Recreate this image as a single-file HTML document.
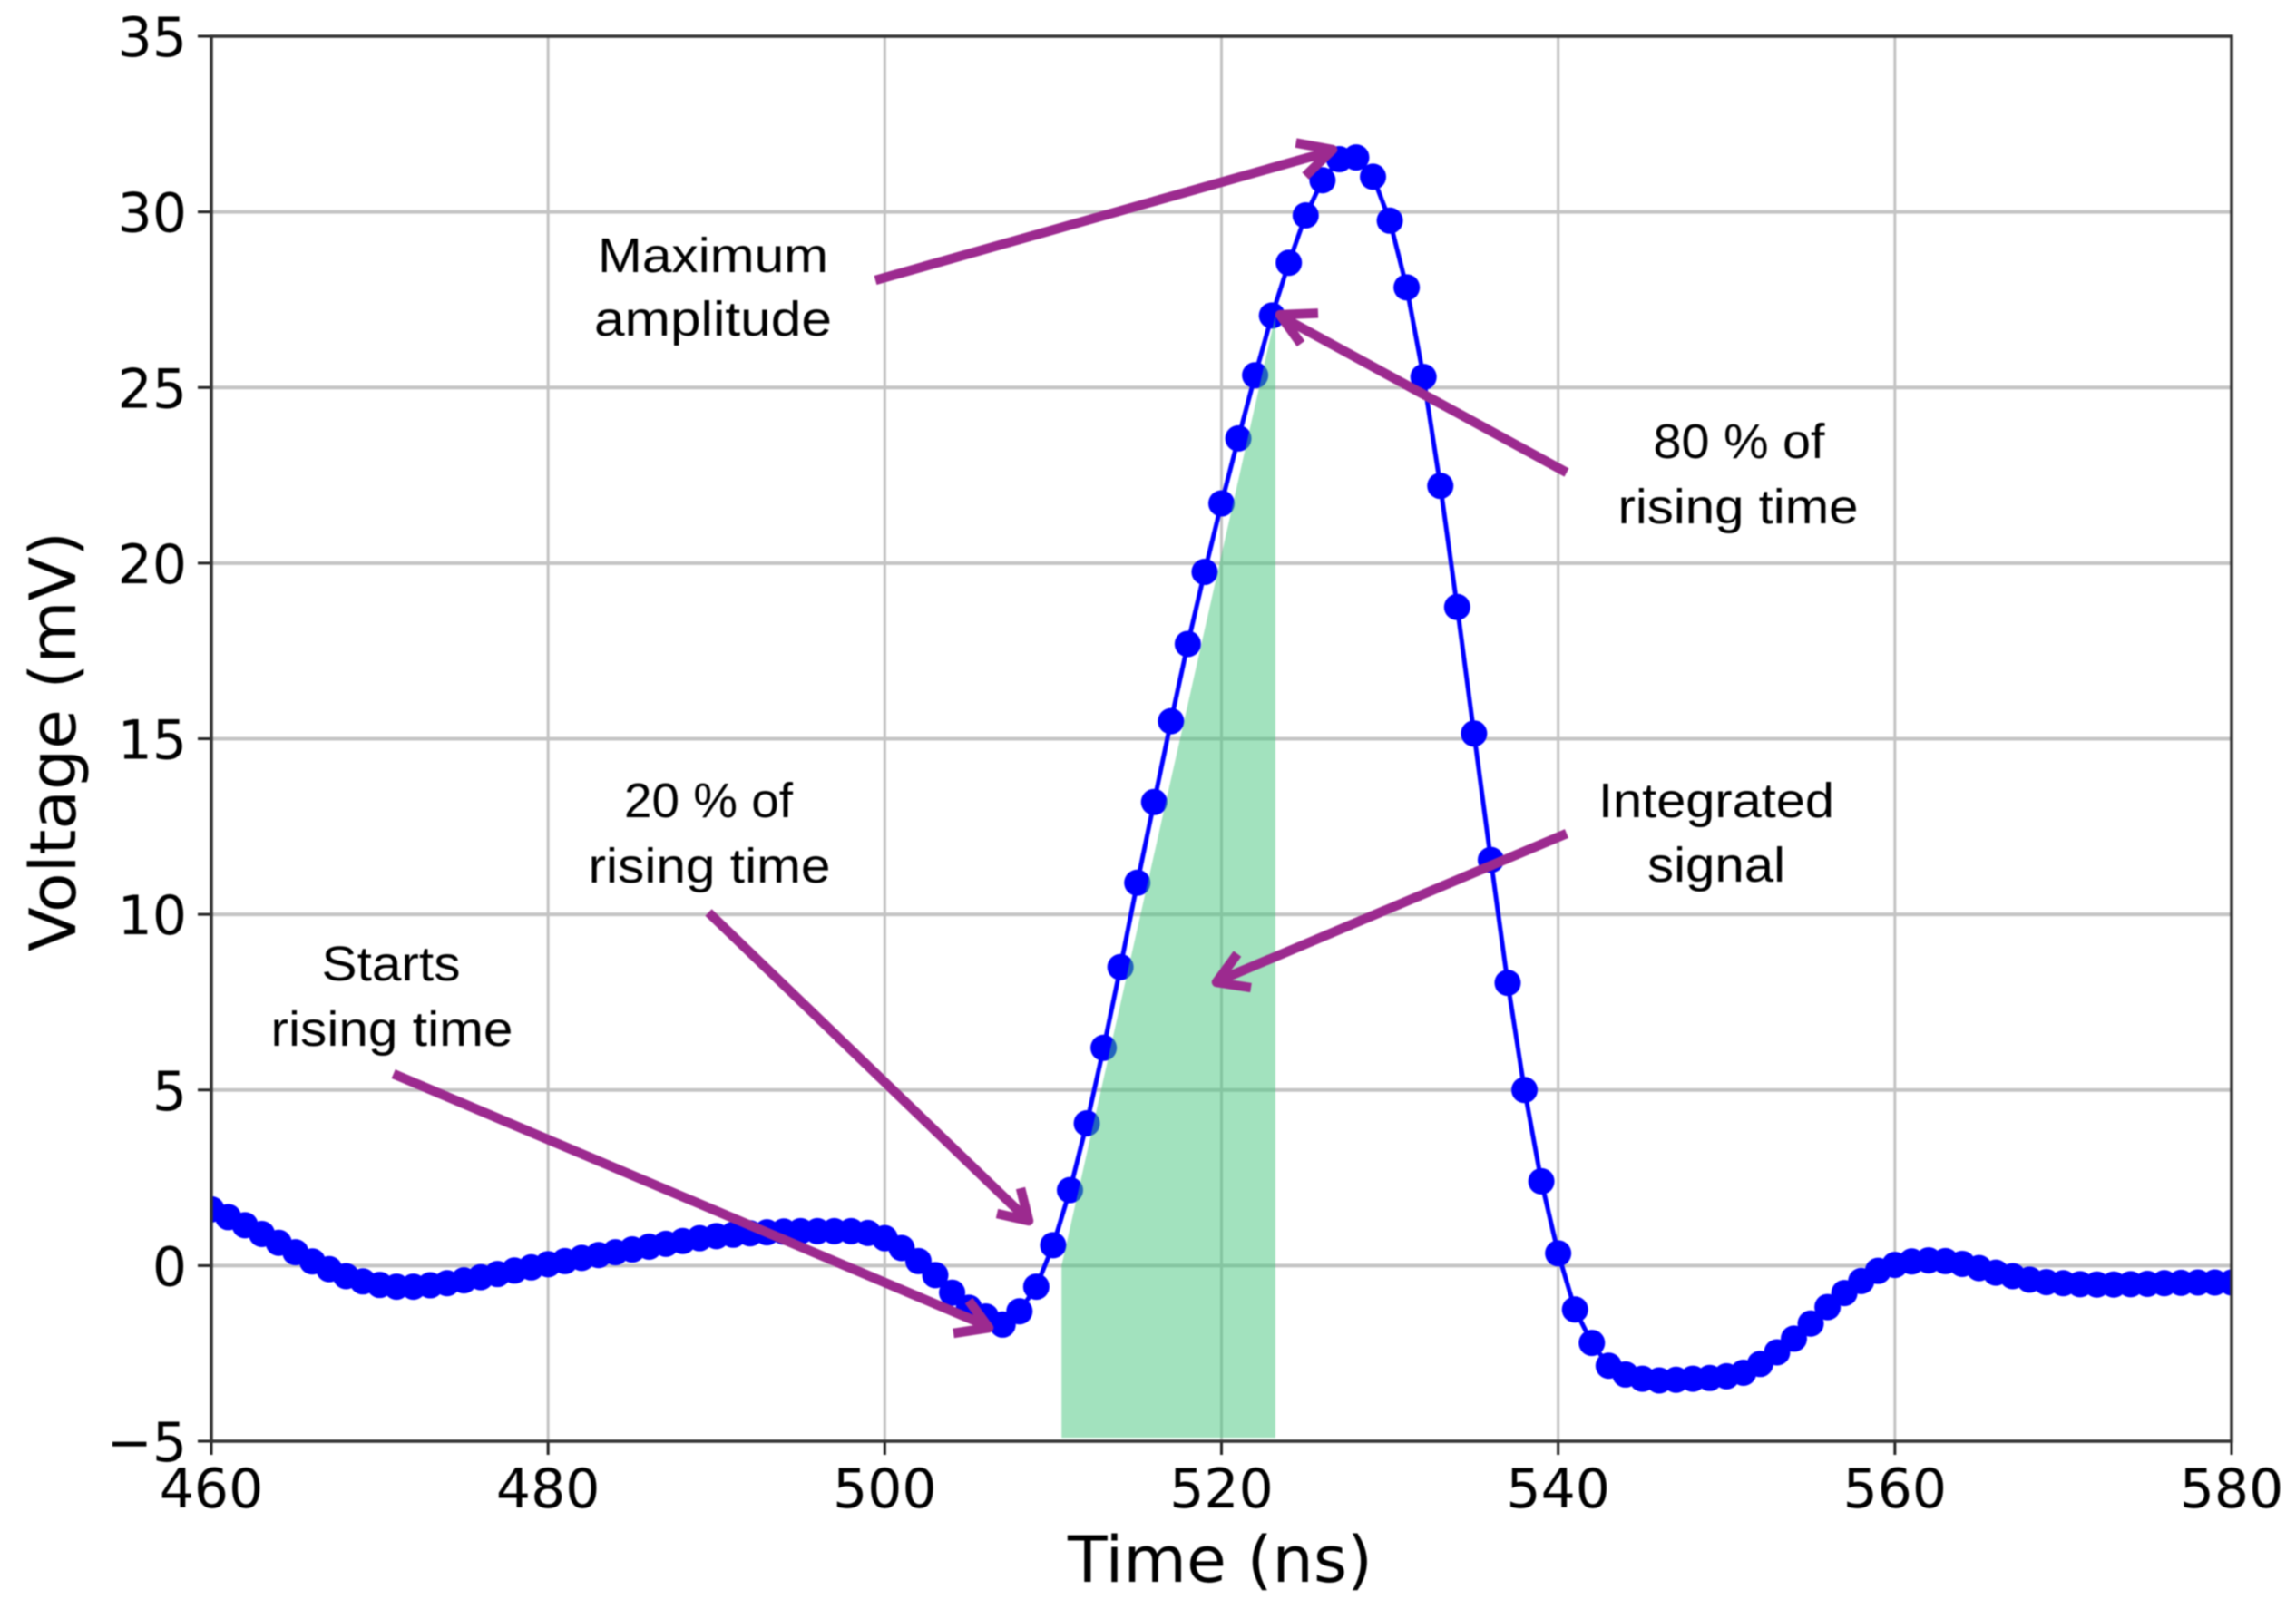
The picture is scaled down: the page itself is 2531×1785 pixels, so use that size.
<!DOCTYPE html>
<html lang="en">
<head>
<meta charset="utf-8">
<title>Voltage pulse versus time</title>
<style>
html,body{margin:0;padding:0;background:#fff;}
body{width:2531px;height:1785px;overflow:hidden;}
svg{display:block;filter:blur(0.7px);}
.tick{font-family:"DejaVu Sans",sans-serif;font-size:60px;fill:#000;}
.axis-title{font-family:"DejaVu Sans",sans-serif;font-size:70px;fill:#000;}
.note{font-family:"Liberation Sans",sans-serif;font-size:54px;fill:#000;text-anchor:middle;}
.arrow{fill:none;stroke:#9c2a8f;stroke-width:10.5;stroke-linejoin:round;}
</style>
</head>
<body>
<svg id="chart" xmlns="http://www.w3.org/2000/svg" width="2531" height="1785" viewBox="0 0 2531 1785">
  <rect x="0" y="0" width="2531" height="1785" fill="#ffffff"/>
  <defs>
    <clipPath id="plot-clip"><rect x="233" y="40" width="2227" height="1549"/></clipPath>
  </defs>
  <g id="grid"></g>
  <g id="series" clip-path="url(#plot-clip)"></g>
  <g id="region" clip-path="url(#plot-clip)"></g>
  <g id="axes"></g>

  <text class="axis-title" x="1345" y="1744" text-anchor="middle" textLength="336" lengthAdjust="spacingAndGlyphs">Time (ns)</text>
  <text class="axis-title" transform="translate(83,1049) rotate(-90)" textLength="463" lengthAdjust="spacingAndGlyphs">Voltage (mV)</text>

  <g>
    <text class="note" x="786" y="300" textLength="254" lengthAdjust="spacingAndGlyphs">Maximum</text>
    <text class="note" x="786" y="370" textLength="262" lengthAdjust="spacingAndGlyphs">amplitude</text>
    <path class="arrow" d="M965 309L1466 167M1428.5 157.6L1469 165L1439 194"/>
  </g>
  <g>
    <text class="note" x="1917" y="505" textLength="189" lengthAdjust="spacingAndGlyphs">80 % of</text>
    <text class="note" x="1916" y="577" textLength="265" lengthAdjust="spacingAndGlyphs">rising time</text>
    <path class="arrow" d="M1727 521L1414 350M1453 345.4L1411 347L1434 379"/>
  </g>
  <g>
    <text class="note" x="1892" y="901" textLength="260" lengthAdjust="spacingAndGlyphs">Integrated</text>
    <text class="note" x="1892" y="972" textLength="152" lengthAdjust="spacingAndGlyphs">signal</text>
    <path class="arrow" d="M1727 919L1344 1081M1364 1051.6L1341 1083L1379 1089"/>
  </g>
  <g>
    <text class="note" x="781" y="901" textLength="186" lengthAdjust="spacingAndGlyphs">20 % of</text>
    <text class="note" x="782" y="973" textLength="267" lengthAdjust="spacingAndGlyphs">rising time</text>
    <path class="arrow" d="M781 1006L1132 1344M1125 1310L1134 1346L1099 1338"/>
  </g>
  <g>
    <text class="note" x="431" y="1081" textLength="153" lengthAdjust="spacingAndGlyphs">Starts</text>
    <text class="note" x="432" y="1153" textLength="267" lengthAdjust="spacingAndGlyphs">rising time</text>
    <path class="arrow" d="M433.7 1184L1086 1461M1068 1434L1090 1464L1051 1470"/>
  </g>
</svg>
<script>
const times = [
  460,461,462,463,464,465,466,467,468,469,
  470,471,472,473,474,475,476,477,478,479,
  480,481,482,483,484,485,486,487,488,489,
  490,491,492,493,494,495,496,497,498,499,
  500,501,502,503,504,505,506,507,508,509,
  510,511,512,513,514,515,516,517,518,519,
  520,521,522,523,524,525,526,527,528,529,
  530,531,532,533,534,535,536,537,538,539,
  540,541,542,543,544,545,546,547,548,549,
  550,551,552,553,554,555,556,557,558,559,
  560,561,562,563,564,565,566,567,568,569,
  570,571,572,573,574,575,576,577,578,579,
  580
];
const voltages = [
  1.6,1.38,1.15,0.9,0.65,0.38,0.12,-0.1,-0.3,-0.45,
  -0.55,-0.6,-0.6,-0.56,-0.5,-0.42,-0.33,-0.24,-0.14,-0.05,
  0.04,0.13,0.22,0.3,0.38,0.46,0.54,0.62,0.7,0.78,
  0.84,0.88,0.92,0.95,0.97,0.98,0.98,0.98,0.98,0.93,
  0.78,0.5,0.13,-0.27,-0.77,-1.2,-1.45,-1.68,-1.3,-0.6,
  0.58,2.15,4.05,6.2,8.5,10.9,13.2,15.5,17.7,19.75,
  21.7,23.55,25.35,27.05,28.55,29.9,30.9,31.5,31.55,31.0,
  29.75,27.85,25.3,22.2,18.75,15.15,11.55,8.05,5.0,2.4,
  0.35,-1.25,-2.2,-2.85,-3.1,-3.22,-3.27,-3.25,-3.22,-3.2,
  -3.15,-3.05,-2.8,-2.47,-2.08,-1.65,-1.18,-0.78,-0.44,-0.15,
  0.02,0.12,0.15,0.13,0.05,-0.07,-0.2,-0.3,-0.4,-0.47,
  -0.5,-0.53,-0.54,-0.54,-0.53,-0.52,-0.5,-0.49,-0.48,-0.48,
  -0.48
];
const xTicks = [460,480,500,520,540,560,580];
const yTicks = [-5,0,5,10,15,20,25,30,35];
const regionTimes = [510.5,510.5,523.2,523.2];
const regionVoltages = [-4.9,0,27.05,-4.9];

const xMin = 460, xMax = 580, yMin = -5, yMax = 35;
const left = 233, right = 2460, top_ = 40, bottom = 1589;
const NS = 'http://www.w3.org/2000/svg';
function xScale(v){ return left + (v - xMin) / (xMax - xMin) * (right - left); }
function yScale(v){ return bottom - (v - yMin) / (yMax - yMin) * (bottom - top_); }
function make(parent, tag, attrs){
  const el = document.createElementNS(NS, tag);
  for (const k in attrs) el.setAttribute(k, attrs[k]);
  parent.appendChild(el);
  return el;
}

const grid = document.getElementById('grid');
const axes = document.getElementById('axes');
const series = document.getElementById('series');
const region = document.getElementById('region');

xTicks.forEach(function(t){
  const x = xScale(t);
  if (t !== xMin && t !== xMax) {
    const g = make(grid, 'line', {x1:x, x2:x, y1:top_, y2:bottom, stroke:'#c2c2c2', 'stroke-width':3});
    
    
  }
  const tick = make(axes, 'line', {x1:x, x2:x, y1:bottom, y2:bottom + 15, stroke:'#222', 'stroke-width':3});
  
  
  const label = make(axes, 'text', {x:x, y:1662, 'text-anchor':'middle', 'class':'tick'});
  
  
  label.textContent = String(t);
});

yTicks.forEach(function(v){
  const y = yScale(v);
  if (v !== yMin && v !== yMax) {
    const g = make(grid, 'line', {x1:left, x2:right, y1:y, y2:y, stroke:'#c4c4c4', 'stroke-width':4});
    
    
  }
  const tick = make(axes, 'line', {x1:left - 15, x2:left, y1:y, y2:y, stroke:'#222', 'stroke-width':3});
  
  
  const label = make(axes, 'text', {x:206, y:y + 22, 'text-anchor':'end', 'class':'tick'});
  
  
  label.textContent = (v < 0 ? '\u2212' : '') + Math.abs(v);
});

const frame = make(axes, 'rect', {x:left, y:top_, width:right - left, height:bottom - top_, fill:'none', stroke:'#333', 'stroke-width':3.5});



const linePoints = times.map(function(t, i){ return xScale(t) + ',' + yScale(voltages[i]); }).join(' ');
const seriesLine = make(series, 'polyline', {points:linePoints, fill:'none', stroke:'#0000ff', 'stroke-width':5});



times.forEach(function(t, i){
  const dot = make(series, 'circle', {cx:xScale(t), cy:yScale(voltages[i]), r:14.5, fill:'#0000ff'});
  
  
});

const regionPoints = regionTimes.map(function(t, i){ return xScale(t) + ',' + yScale(regionVoltages[i]); }).join(' ');
const regionShape = make(region, 'polygon', {points:regionPoints, fill:'#46c57d', 'fill-opacity':0.5});


</script>
</body>
</html>
